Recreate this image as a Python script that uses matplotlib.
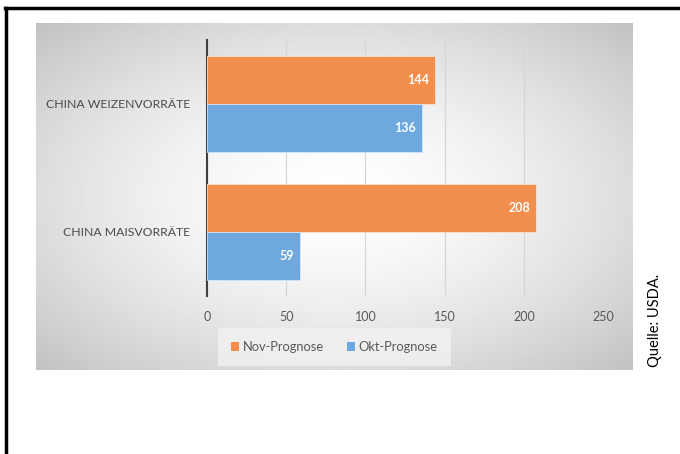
import numpy as np
import matplotlib.pyplot as plt
from matplotlib.lines import Line2D
from matplotlib.patches import Patch

plt.rcParams['font.family'] = ['Lato', 'DejaVu Sans']

# Data
categories = ["CHINA MAISVORRÄTE", "CHINA WEIZENVORRÄTE"]
nov_values = [208, 144]
okt_values = [59, 136]
series_names = ["Nov-Prognose", "Okt-Prognose"]
x_ticks = [0, 50, 100, 150, 200, 250]

orange = "#F28F4E"
blue = "#6FA8DC"

W, H = 680, 454
fig = plt.figure(figsize=(W / 100, H / 100), dpi=100)
fig.patch.set_facecolor("white")

# gray gradient panel
px0, px1, py0, py1 = 36, 633, 23, 370
bg = fig.add_axes([px0 / W, 1 - py1 / H, (px1 - px0) / W, (py1 - py0) / H])
gx, gy = np.meshgrid(np.linspace(-1, 1, 300), np.linspace(-1, 1, 200))
r = np.sqrt(gx ** 2 + gy ** 2) / np.sqrt(2)
shade = 1.0 - 0.24 * r ** 1.6
bg.imshow(shade, cmap="gray", vmin=0, vmax=1, aspect="auto", extent=[0, 1, 0, 1])
bg.set_axis_off()

# plot area
ax0, ax1, ay0, ay1 = 207, 603, 40, 296
ax = fig.add_axes([ax0 / W, 1 - ay1 / H, (ax1 - ax0) / W, (ay1 - ay0) / H])
ax.patch.set_alpha(0)

y = np.arange(len(categories))
h = 0.378
ax.barh(y + h / 2, nov_values, height=h, color=orange, edgecolor="#fbe1cf", linewidth=0.6, label=series_names[0], zorder=3)
ax.barh(y - h / 2, okt_values, height=h, color=blue, edgecolor="#d6e6f5", linewidth=0.6, label=series_names[1], zorder=3)

for yi, v in zip(y, nov_values):
    ax.text(v - 4, yi + h / 2, str(v), ha="right", va="center", color="white", fontsize=9, fontweight="bold", zorder=4)
for yi, v in zip(y, okt_values):
    ax.text(v - 4, yi - h / 2, str(v), ha="right", va="center", color="white", fontsize=9, fontweight="bold", zorder=4)

ax.set_xlim(0, 250)
ax.set_ylim(-0.5, 1.5)
ax.set_xticks(x_ticks)
ax.set_yticks(y)
ax.set_yticklabels(categories)
ax.xaxis.grid(True, color="#d6d6d6", linewidth=0.9, zorder=0)
ax.set_axisbelow(True)
for s in ["top", "right", "bottom"]:
    ax.spines[s].set_visible(False)
ax.spines["left"].set_color("#404040")
ax.spines["left"].set_linewidth(1.5)
ax.tick_params(axis="x", length=0, pad=11, labelsize=9, labelcolor="#595959")
ax.tick_params(axis="y", length=0, pad=12, labelsize=8.8, labelcolor="#4a4a4a")

# legend
handles = [Patch(facecolor=orange, label=series_names[0]), Patch(facecolor=blue, label=series_names[1])]
leg = fig.legend(handles=handles, loc="center", bbox_to_anchor=(334.5 / W, 1 - 347 / H), ncol=2,
                 frameon=True, fontsize=9.3, handlelength=0.6, handleheight=0.6, handletextpad=0.3,
                 columnspacing=1.8, borderpad=0.6, labelcolor="#595959")
leg.get_frame().set_facecolor("#f2f2f2")
leg.get_frame().set_edgecolor("none")
leg.get_frame().set_alpha(0.8)
leg.get_frame().set_boxstyle("square", pad=0.4)

# source note
fig.text(655 / W, 1 - 320 / H, "Quelle: USDA.", rotation=90, ha="center", va="center", fontsize=10.5, color="black")

# black frame lines
fig.add_artist(Line2D([5 / W, 1], [1 - 8 / H, 1 - 8 / H], color="black", linewidth=2.5, transform=fig.transFigure))
fig.add_artist(Line2D([6 / W, 6 / W], [0, 1 - 8 / H], color="black", linewidth=2.5, transform=fig.transFigure))

fig.savefig("out.png", dpi=100)
